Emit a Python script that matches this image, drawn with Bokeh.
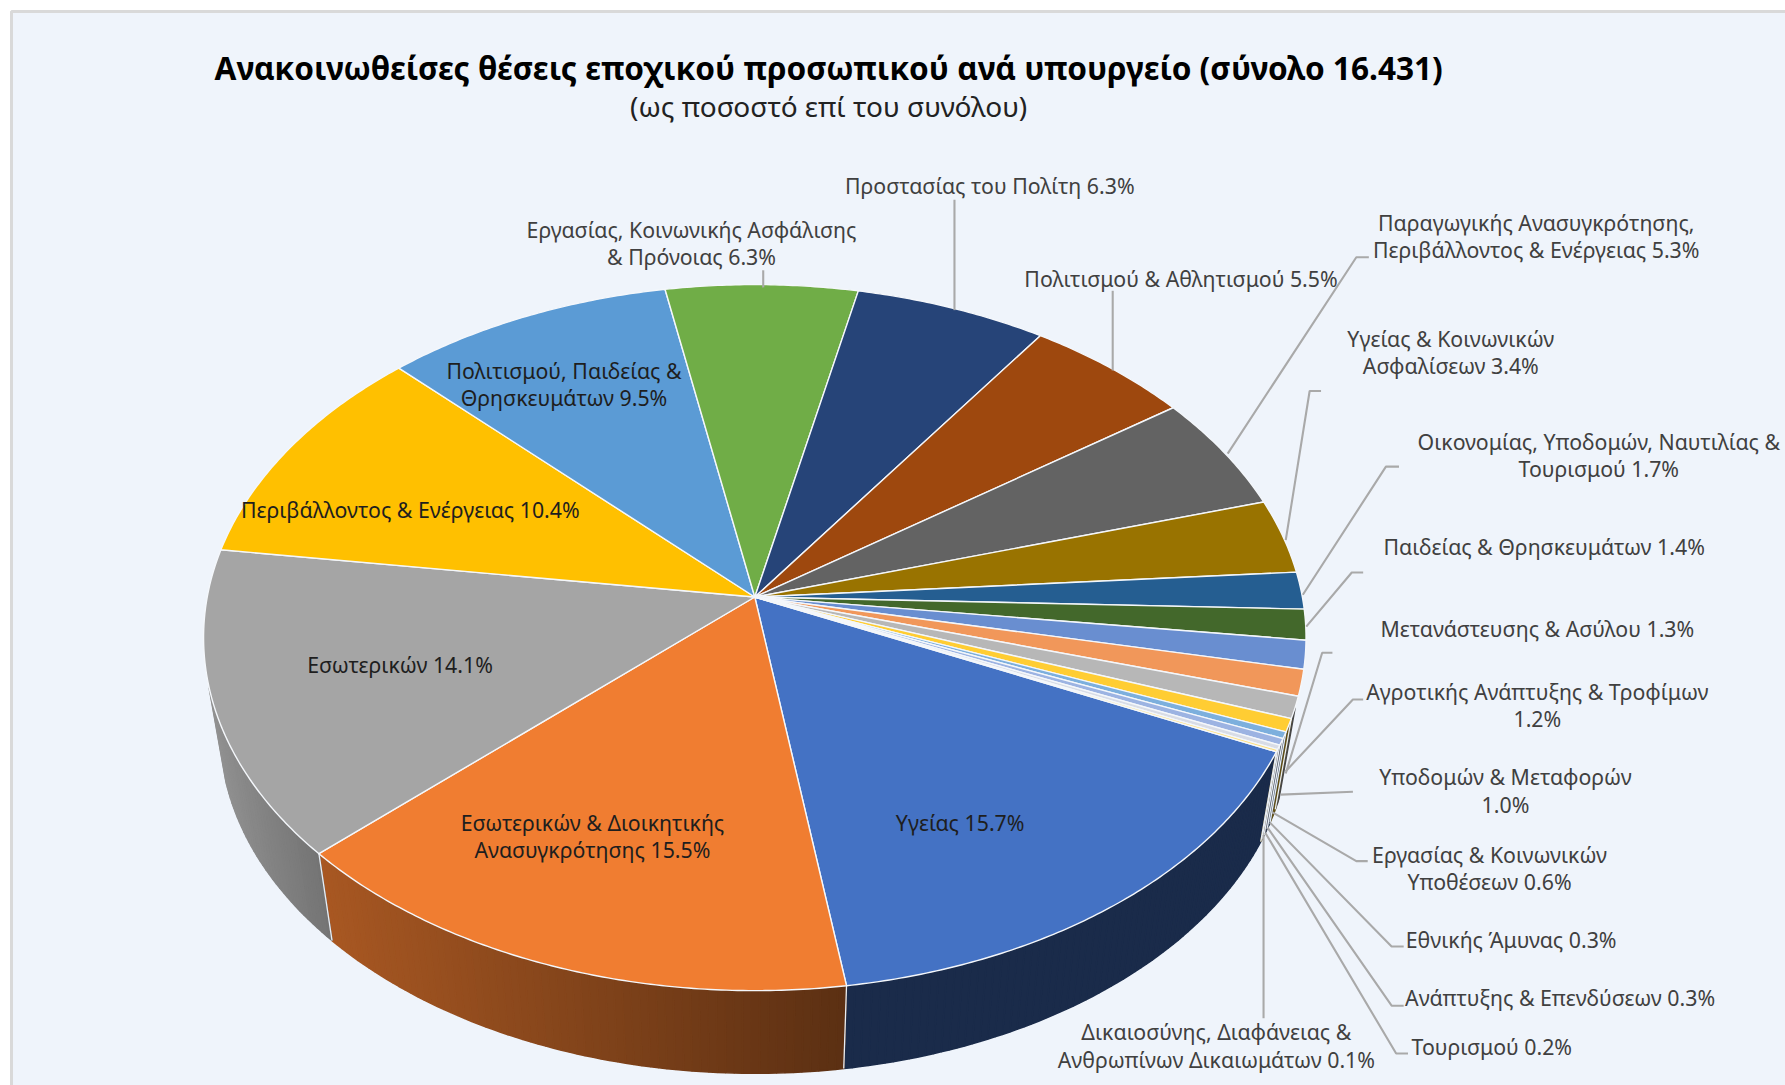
import numpy as np
from bokeh.plotting import figure
from bokeh.models import Range1d
from bokeh.core.properties import value
from bokeh.embed import file_html
from bokeh.resources import INLINE

# ---------- data ----------
title = "Ανακοινωθείσες θέσεις εποχικού προσωπικού ανά υπουργείο (σύνολο 16.431)"
subtitle = "(ως ποσοστό επί του συνόλου)"
ministries = [
    "Υγείας", "Εσωτερικών & Διοικητικής\nΑνασυγκρότησης", "Εσωτερικών",
    "Περιβάλλοντος & Ενέργειας", "Πολιτισμού, Παιδείας &\nΘρησκευμάτων",
    "Εργασίας, Κοινωνικής Ασφάλισης\n& Πρόνοιας", "Προστασίας του Πολίτη",
    "Πολιτισμού & Αθλητισμού", "Παραγωγικής Ανασυγκρότησης,\nΠεριβάλλοντος & Ενέργειας",
    "Υγείας & Κοινωνικών\nΑσφαλίσεων", "Οικονομίας, Υποδομών, Ναυτιλίας &\nΤουρισμού",
    "Παιδείας & Θρησκευμάτων", "Μετανάστευσης & Ασύλου", "Αγροτικής Ανάπτυξης & Τροφίμων\n",
    "Υποδομών & Μεταφορών\n", "Εργασίας & Κοινωνικών\nΥποθέσεων", "Εθνικής Άμυνας",
    "Ανάπτυξης & Επενδύσεων", "Τουρισμού", "Δικαιοσύνης, Διαφάνειας &\nΑνθρωπίνων Δικαιωμάτων",
]
shares = [15.7, 15.5, 14.1, 10.4, 9.5, 6.3, 6.3, 5.5, 5.3, 3.4, 1.7, 1.4, 1.3, 1.2, 1.0, 0.6, 0.3, 0.3, 0.2, 0.1]

# ---------- styles ----------
colors = ["#4472C4", "#F07D31", "#A5A5A5", "#FFC000", "#5B9BD5", "#70AD47", "#264478", "#9E480E",
          "#636363", "#997300", "#255E91", "#43682B", "#698ED0", "#F1975A", "#B7B7B7", "#FFCD33",
          "#7CAFDD", "#9CB3E2", "#D8DCE6", "#FFDD71"]
BG = "#EFF4FB"
FONT = "Noto Sans"

# ---------- layout (reference-image units) ----------
S = 1785 / 1568
CX, CY = 662.6, 524.0      # pie apex
A, B, K = 481.0, 306.0, 0.1150  # perspective disc
START = 115.0              # degrees clockwise from top
RIM_SCALE, RIM_DROP = 0.97, 83.0
SIDE_FROM, SIDE_TO = 108.0, 255.0  # arc of the rim that shows a side face

label_pos = [
    (843, 722), (520, 722), (351, 583), (360, 447), (495, 325), (607, 201), (869, 162.5), (1037, 244),
    (1349, 195), (1274, 297), (1404, 387), (1356, 480), (1350, 552), (1350, 607), (1322, 682),
    (1308, 750), (1327, 825), (1370, 876), (1310, 919), (1068, 906),
]
inner_count = 5
LINE_STEP = 24.0
LABEL_PX = 21.3

leaders = [
    [(838, 175), (838, 272)],
    [(670, 237), (670, 252)],
    [(977, 255), (977, 325)],
    [(1202, 225.5), (1191, 225.5), (1078, 398)],
    [(1160, 343), (1150, 343), (1129, 474)],
    [(1228.5, 409.5), (1217, 409.5), (1144, 522)],
    [(1197, 502.5), (1187, 502.5), (1147, 550)],
    [(1170, 573), (1161, 573), (1129, 679)],
    [(1197, 614), (1188, 614), (1129, 677)],
    [(1188, 695), (1124.6, 697.6)],
    [(1201, 756), (1191, 756), (1117, 713)],
    [(1232.6, 831), (1222, 831), (1115, 722)],
    [(1232.6, 883), (1222, 883), (1113, 726.5)],
    [(1236.4, 925), (1226, 925), (1111, 731)],
    [(1109.5, 894), (1109.5, 733)],
]


def disc(theta_deg):
    t = np.radians(theta_deg)
    u, v = np.sin(t), np.cos(t)
    d = 1 + K * v
    return A * u / d, B * v / d


def top_xy(theta):
    X, Y = disc(theta)
    return CX + X, CY - Y


def rim_xy(theta):
    X, Y = disc(theta)
    return CX + RIM_SCALE * X, CY - RIM_SCALE * Y + RIM_DROP


def shade(hex_color, x):
    f = np.interp(x, [186, 280, 744, 1130], [0.87, 0.70, 0.38, 0.38])
    c = [int(hex_color[i:i + 2], 16) for i in (1, 3, 5)]
    return "#%02x%02x%02x" % tuple(int(round(v * f)) for v in c)


p = figure(width=1785, height=1085, output_backend="svg", toolbar_location=None,
           x_range=Range1d(0, 1785 / S), y_range=Range1d(1085 / S, 0),
           x_axis_type=None, y_axis_type=None, min_border=0,
           background_fill_color="white", border_fill_color="white", outline_line_color=None)
p.grid.visible = False

# chart area
p.quad(left=[11 / S], right=[1800 / S], top=[11 / S], bottom=[1100 / S],
       fill_color=BG, line_color="#D9D9D9", line_width=3)

# angles
total = sum(shares)
edges = START + 360 * np.concatenate([[0], np.cumsum(shares)]) / total

# side faces
sx, sy, sc = [], [], []
ex, ey = [], []
for i, col in enumerate(colors):
    a0, a1 = edges[i], edges[i + 1]
    n = max(2, int((a1 - a0) / 0.8))
    th = np.linspace(a0, a1, n + 1)
    for t0, t1 in zip(th[:-1], th[1:]):
        if not SIDE_FROM <= ((t0 + t1) / 2) % 360 <= SIDE_TO:
            continue
        x0, y0 = top_xy(t0); x1, y1 = top_xy(t1)
        x2, y2 = rim_xy(t1); x3, y3 = rim_xy(t0)
        sx.append([x0, x1, x2, x3]); sy.append([y0, y1, y2, y3])
        sc.append(shade(col, (x0 + x1) / 2))
    if SIDE_FROM <= a0 % 360 <= SIDE_TO:
        x0, y0 = top_xy(a0); x3, y3 = rim_xy(a0)
        ex.append([x0, x3]); ey.append([y0, y3])
p.patches(sx, sy, fill_color=sc, line_color=sc, line_width=1.6)
p.multi_line(ex, ey, line_color="#E8EEF5", line_width=1.3)

# top faces
wx, wy = [], []
for i in range(len(colors)):
    th = np.linspace(edges[i], edges[i + 1], max(3, int((edges[i + 1] - edges[i]) * 2)))
    xs, ys = top_xy(th)
    wx.append([CX] + list(xs)); wy.append([CY] + list(ys))
p.patches(wx, wy, fill_color=colors, line_color="#F4F7FB", line_width=1.4, line_join="round")

# leaders
p.multi_line([[q[0] for q in l] for l in leaders], [[q[1] for q in l] for l in leaders],
             line_color="#A9A9A9", line_width=2.1)

# labels
lx, ly, lt, lc = [], [], [], []
for i, (name, share) in enumerate(zip(ministries, shares)):
    lines = name.split("\n")
    if lines[-1] == "":
        lines[-1] = f"{share:.1f}%"
    else:
        lines[-1] = f"{lines[-1]} {share:.1f}%"
    for j, line in enumerate(lines):
        lx.append(label_pos[i][0]); ly.append(label_pos[i][1] + j * LINE_STEP)
        lt.append(line); lc.append("#1E1E1E" if i < inner_count else "#404040")
p.text(lx, ly, text=lt, text_color=lc, text_font=value(FONT), text_font_size=f"{LABEL_PX}px",
       text_align="center", text_baseline="middle")

p.text([727.5], [59], text=[title], text_color="#000000", text_font=value(FONT), text_font_style="bold",
       text_font_size="31.6px", text_align="center", text_baseline="middle")
p.text([727.5], [92.5], text=[subtitle], text_color="#222222", text_font=value(FONT),
       text_font_size="28px", text_align="center", text_baseline="middle")

open("out.html", "w").write(file_html(p, INLINE))
